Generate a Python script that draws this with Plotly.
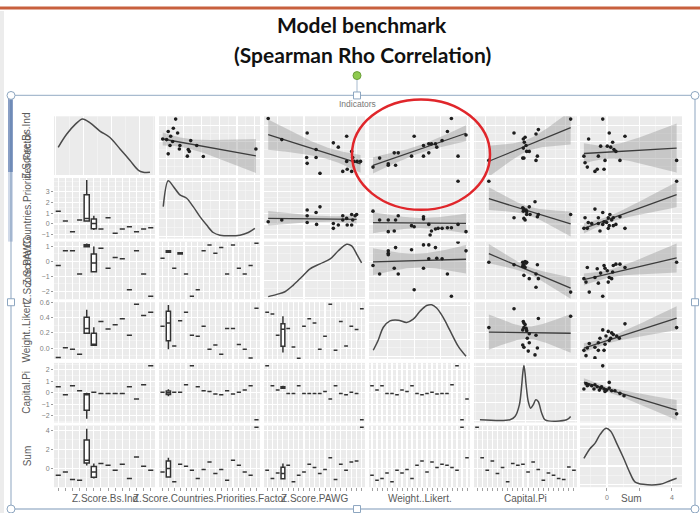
import numpy as np
import plotly.graph_objects as go

# ======================= DATA =======================
VAR_NAMES = ["Z.Score.Bs.Ind", "Z.Score.Countries.Priorities.Factor", "Z.Score.PAWG",
             "Weight..Likert.", "Capital.Pi", "Sum"]
TITLE_1 = "Model benchmark"
TITLE_2 = "(Spearman Rho Correlation)"
FACET_LABEL = "Indicators"

# tick values shown on the left (rows) and bottom (Sum column)
Y_TICKS = [[-1, 0, 1, 2], [-1, 0, 1, 2, 3], [-2, -1, 0, 1], [0.0, 0.2, 0.4, 0.6],
           [-2, -1, 0, 1, 2], [0, 2, 4]]
SUM_X_TICKS = [0, 2, 4]
SUM_X_TICKTEXT = ["0", "", "4"]

# upper triangle scatter panels (row, col): x = column variable, y = row variable
SC_0_1_X = [-0.46, -0.59, -0.88, -0.35, -1.19, -0.97, -0.74, -0.63, -0.78, -0.22, -0.25, 0.39, 0.73, 0.25, 0.31, -0.88, 0.2, 1.1, 4.07]
SC_0_1_Y = [2.38, 1.82, 1.62, 1.53, 1.17, 1.13, 1.33, 1.01, 0.77, 0.77, 0.56, 1.07, 0.77, 0.53, 0.41, 0.26, 0.12, 0.10, 0.56]
SC_0_2_X = [-2.37, -1.85, -0.88, 0.12, 0.31, 0.63, -0.9, -0.54, -0.88, -0.54, -0.39, 0.82, 0.86, 0.63, 0.91, 1.03, 1.16, 0.48, 0.65, 0.82]
SC_0_2_Y = [2.42, 1.13, 1.53, 0.93, 0.67, 1.33, 0.04, 0.04, -0.32, 0.53, -0.93, 0.41, 0.04, -0.2, -0.2, -0.2, -0.2, -0.81, -0.68, -0.81]
SC_0_3_X = [-0.11, -0.06, 0.005, 0.005, 0.06, 0.05, 0.08, 0.18, 0.2, 0.27, 0.27, 0.31, 0.31, 0.33, 0.36, 0.37, 0.41, 0.45, 0.48, 0.53, 0.59]
SC_0_3_Y = [-0.55, 0.0, -0.35, -0.44, -0.44, 0.32, 0.32, 0.12, 1.33, 0.77, 0.12, 0.87, 0.32, 0.87, 0.87, 0.67, 1.07, 1.62, 2.42, 0.12, 1.41]
SC_0_4_X = [2.28, -0.58, 0.65, 0.53, -0.02, -0.11, -0.06, 0.03, -0.11, 0.06, 0.19, -0.14, -0.08, 0.6, 0.53, -1.85]
SC_0_4_Y = [2.38, 1.53, 1.74, 1.47, 1.27, 1.17, 0.97, 0.77, 0.61, 0.41, 0.41, 0.0, 0.0, 0.12, -0.14, -0.14]
SC_0_5_X = [-0.26, 0.14, 1.11, -1.13, 0.35, -0.39, 0.02, 0.23, 0.43, 0.55, -0.53, -1.42, -0.12, 0.8, -1.35, -1.21, -0.74, -0.6, -0.18, 4.29]
SC_0_5_Y = [2.38, 1.53, 1.33, 1.17, 0.97, 0.73, 0.73, 0.67, 0.53, 0.41, 0.12, 0.12, -0.14, -0.14, -0.28, -0.55, -0.81, -0.68, -0.68, -0.14]
SC_1_2_X = [-2.37, -1.85, -0.88, -0.88, -0.54, -0.39, -0.88, -0.52, 0.12, 0.12, 0.31, 0.48, 0.63, 0.65, 0.82, 0.86, 0.95, 1.01, 0.48, 0.82]
SC_1_2_Y = [0.21, 0.37, 1.3, 0.77, 1.07, 1.6, 0.14, -0.04, 0.05, -0.41, -0.1, 0.77, 0.52, -0.1, -0.1, 0.37, 0.77, 0.89, 0.37, 0.89]
SC_1_3_X = [-0.11, -0.06, 0.005, 0.06, 0.08, 0.18, 0.2, 0.27, 0.27, 0.31, 0.32, 0.33, 0.36, 0.38, 0.41, 0.45, 0.48, 0.53, 0.59, 0.05, 0.005, 0.53]
SC_1_3_Y = [1.2, 0.37, 0.37, 0.37, 0.77, -0.16, -0.26, 0.67, 0.46, -0.04, -1.03, -0.66, -0.47, -0.41, -0.41, -0.35, -0.35, -0.04, -0.72, -0.66, -0.72, 3.99]
SC_1_4_X = [0.48, -0.14, -0.08, 0.03, 0.06, 0.19, -0.11, 0.06, 0.65, 0.6, -0.58, -0.08, -0.02, 2.28, 0.23, -1.85]
SC_1_4_Y = [2.07, 1.51, 1.39, 1.3, 1.14, 1.6, 1.2, 0.89, 0.89, 0.67, 0.58, 0.52, 0.37, 0.89, 0.89, 3.99]
SC_1_5_X = [-0.74, -0.26, -1.35, -0.53, 0.08, 0.18, -0.18, -0.02, 0.29, 0.39, 0.8, 0.55, -1.15, -0.94, -0.53, -0.26, 0.14, 0.39, 1.11, -1.42, -1.21, 0.08, -0.43, 4.29]
SC_1_5_Y = [1.39, 1.07, 0.58, 0.58, 0.58, 0.89, 0.21, 0.14, 0.37, 0.58, 0.67, -0.04, 0.14, 0.05, 0.05, -0.04, -0.16, -0.16, -0.41, -0.41, -0.41, -0.41, -0.66, 3.99]
SC_2_3_X = [-0.11, -0.06, 0.005, 0.005, 0.005, 0.05, 0.08, 0.06, 0.18, 0.2, 0.27, 0.27, 0.31, 0.31, 0.36, 0.37, 0.41, 0.45, 0.48, 0.53, 0.59]
SC_2_3_Y = [-0.27, -0.84, 0.71, 0.55, 0.45, -0.45, -0.84, 0.93, 0.78, -1.89, 1.11, -0.45, 1.11, 0.18, 0.93, 0.22, 0.18, -0.84, -2.33, 1.29, 0.71]
SC_2_4_X = [-0.58, -0.14, -0.11, -0.08, -0.02, 0.03, 0.06, -0.14, -0.02, 0.6, -0.08, 0.19, 0.53, 0.65, 0.53, 2.28, -1.85]
SC_2_4_Y = [-0.22, -0.05, -0.18, -0.27, 0.0, -0.11, -0.05, -0.33, -0.4, -0.22, -0.93, -1.15, -0.84, -1.15, -1.73, -2.05, -0.05]
SC_2_5_X = [-1.21, -0.6, -0.39, -0.18, -0.12, 0.02, 0.35, 0.39, 0.55, 0.8, 1.11, -1.42, -1.29, -0.74, -0.53, 0.14, 0.08, 0.29, -1.09, -0.26, 4.29]
SC_2_5_Y = [-0.4, -0.49, -0.78, -0.27, -0.45, -0.62, -0.71, -0.27, -0.18, -0.18, -0.4, -1.15, -1.38, -1.07, -1.45, -1.07, -1.38, -1.15, -2.05, -2.33, -0.05]
SC_3_4_X = [-0.58, 0.65, 2.28, -0.11, -0.08, -0.02, -0.08, 0.03, -0.14, 0.06, 0.19, 0.53, 0.09, 0.19, -0.14, -0.08, 0.14, 0.6, 0.48, -1.85]
SC_3_4_Y = [0.52, 0.39, 0.42, 0.35, 0.33, 0.31, 0.27, 0.26, 0.24, 0.23, 0.19, 0.17, 0.13, 0.07, 0.04, 0.01, -0.04, 0.0, -0.09, 0.27]
SC_3_5_X = [1.11, -0.26, 0.08, 0.29, 0.39, 0.6, 0.76, -0.43, -0.06, 0.23, -1.09, -0.53, -0.12, 0.14, -0.74, -1.42, -1.21, -0.53, -0.18, -1.29, -0.74, 4.29]
SC_3_5_Y = [0.32, 0.24, 0.22, 0.2, 0.18, 0.16, 0.13, 0.13, 0.16, 0.13, 0.06, 0.07, 0.05, 0.1, 0.01, -0.03, 0.0, -0.03, -0.03, -0.1, -0.13, 0.27]
SC_4_5_X = [-1.29, -1.15, -0.94, -0.74, -0.6, -0.39, -0.18, -0.02, 0.14, 0.29, 0.49, 0.8, 1.05, -1.42, 4.29, 0.14, -0.26, -1.21, -0.8, -0.47, -0.12, -0.33]
SC_4_5_Y = [0.81, 0.7, 0.61, 0.7, 0.52, 0.41, 0.32, 0.23, 0.41, 0.17, 0.17, -0.06, -0.26, 0.32, -1.85, 0.9, 2.35, 0.61, 0.32, 0.23, 0.11, 0.52]

# diagonal density curves (value, density)
DENS_0_X = [-0.91, -0.61, -0.31, -0.04, 0.23, 0.58, 0.94, 1.30, 1.65, 1.95, 2.13, 2.37]
DENS_0_Y = [0.213, 0.322, 0.403, 0.45, 0.417, 0.349, 0.295, 0.199, 0.104, 0.022, 0.004, 0.003]
DENS_1_X = [-1.16, -0.88, -0.59, -0.22, 0.16, 0.53, 0.91, 1.29, 1.66, 2.04, 2.6, 3.17, 3.64, 4.01]
DENS_1_Y = [0.215, 0.4, 0.359, 0.299, 0.275, 0.215, 0.144, 0.084, 0.031, 0.012, 0.007, 0.012, 0.031, 0.06]
DENS_2_X = [-2.37, -2.04, -1.73, -1.41, -1.09, -0.77, -0.39, 0.0, 0.31, 0.63, 0.82, 1.01, 1.2]
DENS_2_Y = [0.009, 0.03, 0.055, 0.117, 0.193, 0.27, 0.316, 0.362, 0.439, 0.5, 0.485, 0.408, 0.325]
DENS_3_X = [-0.108, -0.07, -0.032, 0.018, 0.08, 0.143, 0.193, 0.244, 0.294, 0.332, 0.369, 0.419, 0.469, 0.532, 0.59]
DENS_3_Y = [0.244, 0.641, 1.133, 1.381, 1.407, 1.319, 1.444, 1.752, 1.974, 2.0, 1.874, 1.504, 1.011, 0.393, 0.01]
DENS_4_X = [-2.3, -0.78, -0.53, -0.31, -0.19, -0.14, -0.08, -0.02, 0.03, 0.14, 0.26, 0.39, 0.52, 0.64, 0.82, 0.99, 2.08, 2.28]
DENS_4_Y = [0.019, 0.019, 0.109, 0.428, 0.974, 1.28, 1.5, 1.28, 0.98, 0.518, 0.335, 0.428, 0.565, 0.518, 0.2, 0.019, 0.019, 0.109]
DENS_5_X = [-1.42, -1.05, -0.74, -0.43, -0.06, 0.23, 0.6, 1.0, 1.42, 1.72, 2.23, 3.26, 3.88, 4.29]
DENS_5_Y = [0.186, 0.255, 0.293, 0.355, 0.4, 0.38, 0.293, 0.194, 0.082, 0.02, 0.002, 0.002, 0.028, 0.045]

# lower triangle: per category (column variable treated as discrete) the row-variable values
BOX_1_0 = [[1.2], [0.27], [-0.72], [0.37], [4.1, 2.26, 0.52, 0.3, 0.2], [0.77, 0.37, 0.05, -0.41, -0.56],
           [-0.47], [0.58], [-0.88], [-0.47], [-0.26], [-0.72], [-0.47], [-0.35]]
BOX_2_0 = [[-0.27], [0.71], [0.71], [-0.84], [1.2, 1.1, 1.05, 1.0, 0.95], [1.0, 0.33, -0.11, -0.67, -0.71],
           [0.89], [-0.45], [0.27], [0.18], [-1.89], [0.71], [-0.84], [-2.33]]
BOX_3_0 = [[-0.126], [0.004], [-0.017], [-0.082], [0.505, 0.374, 0.257, 0.2, 0.187], [0.275, 0.17, 0.05, 0.04, 0.035],
           [0.352], [0.252], [0.309], [0.387], [0.17], [0.578], [0.43], [0.474]]
BOX_4_0 = [[0.53], [-0.17], [0.61], [0.17], [0.0, -0.11, -0.15, -1.28, -2.29], [0.03], [-0.06], [-0.06], [-0.06],
           [-0.06], [0.52], [-0.55], [0.7], [2.35]]
BOX_5_0 = [[-0.74], [-0.39], [-1.19], [-1.26], [4.18, 2.6, 0.84, 0.66, 0.3], [0.5, 0.07, -0.39, -0.91, -1.08],
           [0.5], [0.32], [-0.21], [0.42], [-1.08], [1.19], [0.21], [-0.21]]
BOX_2_1 = [[0.22], [0.75, 0.7, 0.67, 0.62, 0.6], [-0.45], [0.62, 0.58, 0.55, 0.5, 0.47], [-0.84], [-2.33], [-1.89],
           [0.71], [1.11], [0.55], [0.93], [-0.84], [1.11], [-0.45], [-0.84], [-0.27], [1.22]]
BOX_3_1 = [[0.287], [0.57, 0.46, 0.33, 0.135, -0.017], [0.026], [0.361], [0.474], [0.17], [0.157], [0.287],
           [-0.017], [0.039], [-0.082], [0.257], [0.257], [0.048], [-0.017], [-0.13], [0.526]]
BOX_4_1 = [[0.03], [0.3, 0.1, 0.0, -0.1, -0.3], [0.03], [0.03], [0.7], [2.35], [0.52], [0.17], [0.11], [-0.11],
           [-0.17], [0.17], [-0.11], [0.03], [0.23], [0.61], [-2.37]]
BOX_5_1 = [[-0.39], [1.12, 0.66, -0.03, -0.91, -1.0], [-1.44], [0.42], [0.21], [-0.21], [-1.08], [-0.14], [0.66],
           [-0.56], [-0.14], [-1.26], [0.84], [0.32], [-0.39], [-0.74], [4.35]]
BOX_3_2 = [[0.474], [0.45], [0.17], [0.42, 0.287, 0.25, 0.05, -0.06], [0.257], [0.013], [-0.134], [0.287], [0.387],
           [0.33], [-0.017], [0.157], [0.578], [-0.03], [0.352], [0.026], [0.287], [0.244], [0.518]]
BOX_4_2 = [[2.35], [0.61], [0.23], [0.6, 0.5, 0.46, 0.4, 0.35], [-0.06], [-0.06], [0.61], [-0.06], [-0.06], [-0.06],
           [-0.06], [0.11], [-0.55], [0.61], [-0.06], [-0.17], [0.03], [-0.06], [-2.37]]
BOX_5_2 = [[-0.21], [-1.08], [-0.49], [0.5, -0.03, -0.56, -1.08, -1.2], [0.32], [-1.44], [-0.74], [-0.39], [0.42],
           [0.07], [-0.56], [-0.14], [1.12], [-1.19], [0.42], [-0.21], [0.66], [0.77], [4.35]]
BOX_4_3 = [[0.61], [0.23], [0.61], [-0.06], [-0.06], [-0.17], [0.23], [0.11], [0.61], [-0.06], [-0.17], [-0.06],
           [0.03], [-0.11], [-0.06], [-0.06], [0.7], [2.35], [-2.37], [-0.55]]
BOX_5_3 = [[-0.74], [-1.26], [-1.08], [-0.49], [-1.44], [-0.21], [-0.49], [-0.14], [-1.08], [0.32], [0.77], [-0.39],
           [0.66], [0.07], [0.42], [0.32], [0.07], [-0.21], [4.35], [1.12]]
BOX_5_4 = [[4.35], [1.12], [-0.21], [0.77], [-0.56], [0.07], [-1.44], [0.5], [0.32], [0.42], [-0.39], [0.66], [-0.14],
           [-1.26], [-0.49], [-0.74], [-1.08], [-1.19], [0.14], [-0.21]]

SCATTER = {(0, 1): (SC_0_1_X, SC_0_1_Y), (0, 2): (SC_0_2_X, SC_0_2_Y), (0, 3): (SC_0_3_X, SC_0_3_Y),
           (0, 4): (SC_0_4_X, SC_0_4_Y), (0, 5): (SC_0_5_X, SC_0_5_Y), (1, 2): (SC_1_2_X, SC_1_2_Y),
           (1, 3): (SC_1_3_X, SC_1_3_Y), (1, 4): (SC_1_4_X, SC_1_4_Y), (1, 5): (SC_1_5_X, SC_1_5_Y),
           (2, 3): (SC_2_3_X, SC_2_3_Y), (2, 4): (SC_2_4_X, SC_2_4_Y), (2, 5): (SC_2_5_X, SC_2_5_Y),
           (3, 4): (SC_3_4_X, SC_3_4_Y), (3, 5): (SC_3_5_X, SC_3_5_Y), (4, 5): (SC_4_5_X, SC_4_5_Y)}
DENSITY = [(DENS_0_X, DENS_0_Y), (DENS_1_X, DENS_1_Y), (DENS_2_X, DENS_2_Y),
           (DENS_3_X, DENS_3_Y), (DENS_4_X, DENS_4_Y), (DENS_5_X, DENS_5_Y)]
BOXES = {(1, 0): BOX_1_0, (2, 0): BOX_2_0, (3, 0): BOX_3_0, (4, 0): BOX_4_0, (5, 0): BOX_5_0,
         (2, 1): BOX_2_1, (3, 1): BOX_3_1, (4, 1): BOX_4_1, (5, 1): BOX_5_1,
         (3, 2): BOX_3_2, (4, 2): BOX_4_2, (5, 2): BOX_5_2,
         (4, 3): BOX_4_3, (5, 3): BOX_5_3, (5, 4): BOX_5_4}

# ======================= LAYOUT / STYLE =======================
W, H = 700, 513
COL_PX = [(54, 155), (159, 260), (264, 365), (369, 470), (474, 577), (580, 682)]
ROW_PX = [(114, 173), (176, 237), (240, 298), (301, 358), (362, 422), (425, 487)]
X_RANGE = [[-1.06, 2.55], [-1.4, 4.3], [-2.53, 1.33], [-0.14, 0.62], [-2.6, 2.6], [-1.66, 4.62]]
Y_RANGE = [[-1.03, 2.55], [-1.37, 4.3], [-2.53, 1.33], [-0.143, 0.605], [-2.61, 2.61], [-2.0, 4.53]]
DTICK = [1, 1, 1, 0.2, 1, 2]
PANEL_BG = "#EBEBEB"
TICK_FONT = dict(family="Liberation Sans, Arial, sans-serif", size=7, color="#808080")
LABEL_FONT = dict(family="Liberation Sans, Arial, sans-serif", size=10, color="#5a5a5a")


def px2x(p):
    return p / W


def px2y(p):
    return 1 - p / H


def tq975(df):
    z = 1.959964
    return (z + (z ** 3 + z) / (4 * df) + (5 * z ** 5 + 16 * z ** 3 + 3 * z) / (96 * df ** 2)
            + (3 * z ** 7 + 19 * z ** 5 + 17 * z ** 3 - 15 * z) / (384 * df ** 3))


def lm_band(xs, ys):
    x = np.asarray(xs, float)
    y = np.asarray(ys, float)
    n = len(x)
    b, a = np.polyfit(x, y, 1)
    xg = np.linspace(x.min(), x.max(), 80)
    yh = a + b * xg
    res = y - (a + b * x)
    s = np.sqrt(np.sum(res ** 2) / (n - 2))
    sxx = np.sum((x - x.mean()) ** 2)
    se = s * np.sqrt(1.0 / n + (xg - x.mean()) ** 2 / sxx)
    t = tq975(n - 2)
    return xg, yh, yh - t * se, yh + t * se


def minor_grid(d):
    return dict(tickmode="linear", tick0=0, dtick=d / 2, showgrid=True, gridcolor="#F6F6F6", gridwidth=0.6)


fig = go.Figure()
layout = {}

for r in range(6):
    for c in range(6):
        k = r * 6 + c + 1
        xs = "" if k == 1 else str(k)
        xref, yref = "x" + xs, "y" + xs
        x0, x1 = COL_PX[c]
        y0, y1 = ROW_PX[r]
        xa = dict(domain=[px2x(x0), px2x(x1)], anchor=yref, showgrid=True, gridcolor="white", gridwidth=1.1,
                  zeroline=False, showline=False, showticklabels=False, ticks="", fixedrange=True)
        ya = dict(domain=[px2y(y1), px2y(y0)], anchor=xref, showgrid=True, gridcolor="white", gridwidth=1.1,
                  zeroline=False, showline=False, showticklabels=False, ticks="", fixedrange=True)

        ya.update(range=Y_RANGE[r], tickmode="array", tickvals=Y_TICKS[r], minor=minor_grid(DTICK[r]))
        if r == 3:
            ya.update(tickformat=".1f")

        if c > r:  # scatter + lm
            xa.update(range=X_RANGE[c], tickmode="linear", tick0=0, dtick=DTICK[c], minor=minor_grid(DTICK[c]))
            sx, sy = SCATTER[(r, c)]
            xg, yh, lo, hi = lm_band(sx, sy)
            fig.add_trace(go.Scatter(x=np.concatenate([xg, xg[::-1]]), y=np.concatenate([hi, lo[::-1]]),
                                     fill="toself", fillcolor="rgba(150,150,150,0.42)", line=dict(width=0),
                                     mode="lines", xaxis=xref, yaxis=yref, hoverinfo="skip"))
            fig.add_trace(go.Scatter(x=xg, y=yh, mode="lines", line=dict(color="#3c3c3c", width=1.3),
                                     xaxis=xref, yaxis=yref, hoverinfo="skip"))
            fig.add_trace(go.Scatter(x=sx, y=sy, mode="markers", marker=dict(color="#1e1e1e", size=3.6),
                                     xaxis=xref, yaxis=yref, cliponaxis=True))
        elif c == r:  # density
            xa.update(range=X_RANGE[c], tickmode="linear", tick0=0, dtick=DTICK[c], minor=minor_grid(DTICK[c]))
            dx, dy = DENSITY[r]
            lo_d, hi_d = min(dy), max(dy)
            span = hi_d - lo_d
            drange = [lo_d - 0.05 * span, hi_d + 0.05 * span]
            if r == 0:
                layout["yaxis37"] = dict(overlaying="y", domain=[px2y(y1), px2y(y0)], anchor=xref,
                                         range=drange, visible=False, fixedrange=True)
                dyref = "y37"
            else:
                ya.update(range=drange, tickmode="linear", tick0=0, dtick=span / 3, minor=minor_grid(span / 3))
                dyref = yref
            fig.add_trace(go.Scatter(x=dx, y=dy, mode="lines",
                                     line=dict(color="#4a4a4a", width=1.5, shape="spline", smoothing=0.9),
                                     xaxis=xref, yaxis=dyref, hoverinfo="skip"))
        else:  # boxplots per category
            cats = BOXES[(r, c)]
            n = len(cats)
            xa.update(range=[0.4, n + 0.6], tickmode="linear", tick0=1, dtick=1)
            bx, by = [], []
            for i, vals in enumerate(cats):
                for v in vals:
                    bx.append(i + 1)
                    by.append(v)
            fig.add_trace(go.Box(x=bx, y=by, width=0.72, fillcolor="white", boxpoints=False,
                                 line=dict(color="#333333", width=1.5), whiskerwidth=0,
                                 xaxis=xref, yaxis=yref, hoverinfo="skip"))

        if c == 0:
            ya.update(showticklabels=True, ticks="outside", ticklen=2, tickcolor="#9a9a9a", tickfont=TICK_FONT)
        if r == 5:
            xa.update(ticks="outside", ticklen=3, tickcolor="#a0a0a0")
            if c == 5:
                xa.update(showticklabels=True, tickmode="array", tickvals=SUM_X_TICKS,
                          ticktext=SUM_X_TICKTEXT, tickfont=TICK_FONT)

        layout["xaxis" + xs] = xa
        layout["yaxis" + xs] = ya

# ---------------- annotations ----------------
ann = []
ann.append(dict(text="<b>" + TITLE_1 + "</b>", x=px2x(362), y=px2y(22), xref="paper", yref="paper",
                xanchor="center", yanchor="middle", showarrow=False,
                font=dict(family="Lato, Open Sans, sans-serif", size=21, color="#111111")))
ann.append(dict(text="<b>" + TITLE_2 + "</b>", x=px2x(362), y=px2y(52), xref="paper", yref="paper",
                xanchor="center", yanchor="middle", showarrow=False,
                font=dict(family="Lato, Open Sans, sans-serif", size=21, color="#111111")))
ann.append(dict(text=FACET_LABEL, x=px2x(357), y=px2y(102), xref="paper", yref="paper",
                xanchor="center", yanchor="middle", showarrow=False,
                font=dict(family="Liberation Sans, Arial, sans-serif", size=8.5, color="#777777")))
for i, name in enumerate(VAR_NAMES):
    y0, y1 = ROW_PX[i]
    ann.append(dict(text=name, x=px2x(27), y=px2y((y0 + y1) / 2), xref="paper", yref="paper",
                    xanchor="center", yanchor="middle", showarrow=False, textangle=-90, font=LABEL_FONT))
    x0, x1 = COL_PX[i]
    ann.append(dict(text=name, x=px2x((x0 + x1) / 2), y=px2y(498), xref="paper", yref="paper",
                    xanchor="center", yanchor="middle", showarrow=False, font=LABEL_FONT))

# ---------------- slide decorations ----------------
shapes = []
shapes.append(dict(type="line", xref="paper", yref="paper", x0=0, x1=1, y0=px2y(5), y1=px2y(5),
                   line=dict(color="#C8603E", width=3)))
shapes.append(dict(type="rect", xref="paper", yref="paper", x0=0, x1=px2x(4), y0=0, y1=px2y(8),
                   fillcolor="#ECECEC", line=dict(width=0), layer="below"))
shapes.append(dict(type="rect", xref="paper", yref="paper", x0=px2x(11), x1=px2x(695), y0=px2y(509), y1=px2y(93),
                   line=dict(color="#A8BBCF", width=1.3)))
shapes.append(dict(type="rect", xref="paper", yref="paper", x0=px2x(8), x1=px2x(13), y0=px2y(170), y1=px2y(96),
                   fillcolor="rgba(40,80,150,0.55)", line=dict(width=0)))
shapes.append(dict(type="rect", xref="paper", yref="paper", x0=px2x(8), x1=px2x(13), y0=px2y(240), y1=px2y(170),
                   fillcolor="rgba(40,80,150,0.22)", line=dict(width=0)))
shapes.append(dict(type="line", xref="paper", yref="paper", x0=px2x(357), x1=px2x(357), y0=px2y(77), y1=px2y(90),
                   line=dict(color="#A8BBCF", width=1)))
for (hx, hy) in [(11, 93), (695, 93), (11, 509), (695, 509)]:
    shapes.append(dict(type="circle", xref="paper", yref="paper", x0=px2x(hx - 4), x1=px2x(hx + 4),
                       y0=px2y(hy + 4), y1=px2y(hy - 4), fillcolor="white", line=dict(color="#8DA6C0", width=1)))
for (hx, hy) in [(357, 93), (357, 509), (11, 301), (695, 301)]:
    shapes.append(dict(type="rect", xref="paper", yref="paper", x0=px2x(hx - 3.5), x1=px2x(hx + 3.5),
                       y0=px2y(hy + 3.5), y1=px2y(hy - 3.5), fillcolor="white", line=dict(color="#8DA6C0", width=1)))
shapes.append(dict(type="circle", xref="paper", yref="paper", x0=px2x(353), x1=px2x(361), y0=px2y(77), y1=px2y(69),
                   fillcolor="#8FCB4F", line=dict(color="#6A9E3A", width=1)))
shapes.append(dict(type="circle", xref="paper", yref="paper", x0=px2x(352), x1=px2x(490), y0=px2y(208), y1=px2y(97),
                   line=dict(color="#E0262B", width=2.5)))

fig.update_layout(width=W, height=H, margin=dict(l=0, r=0, t=0, b=0), paper_bgcolor="white",
                  plot_bgcolor=PANEL_BG, showlegend=False, annotations=ann, shapes=shapes, **layout)

fig.write_html("out.html", config={"displayModeBar": False, "staticPlot": True},
               post_script="document.body.style.margin='0';document.body.style.overflow='hidden';")
